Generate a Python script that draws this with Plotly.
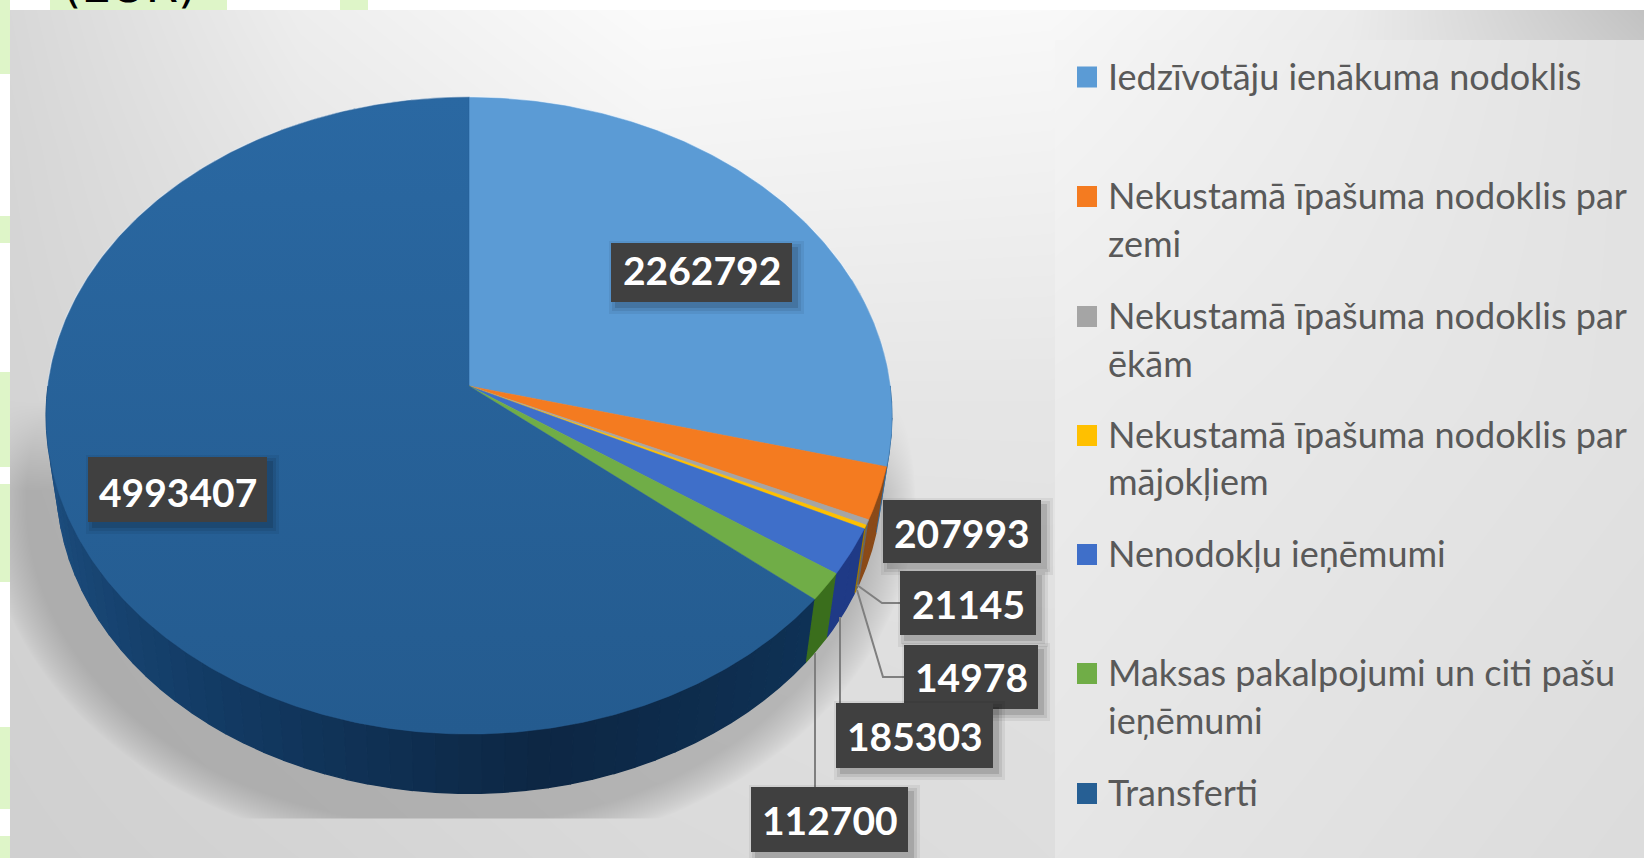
import base64, struct, zlib
import numpy as np
import plotly.graph_objects as go

# ---------- data ----------
categories = ["Iedzīvotāju ienākuma nodoklis", "Nekustamā īpašuma nodoklis par zemi",
              "Nekustamā īpašuma nodoklis par ēkām", "Nekustamā īpašuma nodoklis par mājokļiem",
              "Nenodokļu ieņēmumi", "Maksas pakalpojumi un citi pašu ieņēmumi", "Transferti"]
values = [2262792, 207993, 21145, 14978, 185303, 112700, 4993407]
colors = ["#5b9bd5", "#f47b20", "#a5a5a5", "#ffc000", "#3f6fc9", "#70ad47", "#265f94"]
wall_colors = ["#3a6d9c", "#8a4a18", "#666666", "#a07800", "#1f3a86", "#3a6e1c", "#123a60"]
legend_lines = [["Iedzīvotāju ienākuma nodoklis"], ["Nekustamā īpašuma nodoklis par", "zemi"],
                ["Nekustamā īpašuma nodoklis par", "ēkām"], ["Nekustamā īpašuma nodoklis par", "mājokļiem"],
                ["Nenodokļu ieņēmumi"], ["Maksas pakalpojumi un citi pašu", "ieņēmumi"], ["Transferti"]]

# ---------- layout constants (page pixels) ----------
W, H = 1644, 858
CX, CY, A, R, K = 469, 386, 421, 315.5, 0.0935
DROP, SHRINK = 68, 0.975
legend_y = [(76.5,), (196, 244), (316, 364), (435, 482), (554,), (673, 721), (793,)]
label_boxes = [(611, 243, 792, 302), (883, 500, 1041, 563), (900, 571, 1036, 635), (904, 645, 1038, 709),
               (836, 703, 993, 768), (751, 787, 908, 852), (88, 457, 267, 522)]
label_dy = [-3, 1, 1, 0, 0, 0, 2]
leaders = [[(857, 585), (882, 603), (900, 603)], [(857, 590), (883, 677), (904, 677)],
           [(840, 617), (840, 703)], [(815, 653), (815, 787)]]


def top_point(theta):
    u, v = np.sin(theta), -np.cos(theta)
    w = 1 - K * v
    return CX + A * u / w, CY + R * v / w


def low_point(theta):
    x, y = top_point(theta)
    return CX + (x - CX) * SHRINK, CY + DROP + (y - CY) * SHRINK


# ---------- background picture ----------
def png_uri(rgb):
    h, w, _ = rgb.shape
    raw = b"".join(b"\x00" + rgb[i].tobytes() for i in range(h))
    def chunk(t, d):
        return struct.pack(">I", len(d)) + t + d + struct.pack(">I", zlib.crc32(t + d) & 0xffffffff)
    data = b"\x89PNG\r\n\x1a\n" + chunk(b"IHDR", struct.pack(">IIBBBBB", w, h, 8, 2, 0, 0, 0)) \
        + chunk(b"IDAT", zlib.compress(raw, 6)) + chunk(b"IEND", b"")
    return "data:image/png;base64," + base64.b64encode(data).decode()


def bilinear(xs, ys, vals, xx, yy):
    vals = np.array(vals, float)
    gx = np.interp(xx[0], xs, np.arange(len(xs)))
    gy = np.interp(yy[:, 0], ys, np.arange(len(ys)))
    ix = np.clip(gx.astype(int), 0, len(xs) - 2); fx = gx - ix
    iy = np.clip(gy.astype(int), 0, len(ys) - 2); fy = gy - iy
    return (vals[iy][:, ix] * (1 - fx) + vals[iy][:, ix + 1] * fx) * (1 - fy)[:, None] \
        + (vals[iy + 1][:, ix] * (1 - fx) + vals[iy + 1][:, ix + 1] * fx) * fy[:, None]


yy, xx = np.mgrid[0:H, 0:W].astype(float)
panel = bilinear([10, 300, 650, 1050, 1350, 1644], [10, 150, 400, 650, 858],
                 [[216, 238, 251, 249, 236, 194],
                  [214, 232, 244, 242, 232, 214],
                  [212, 222, 230, 230, 226, 218],
                  [210, 216, 222, 224, 222, 216],
                  [208, 212, 218, 222, 220, 214]], xx, yy)
legend_panel = bilinear([1055, 1300, 1644], [40, 400, 858],
                        [[246, 238, 226],
                         [236, 232, 226],
                         [230, 226, 220]], xx, yy)
box = (xx >= 1055) & (yy >= 40)
panel[box] = legend_panel[box]
rho = np.hypot((xx - 450) / 424, (yy - 500) / 325)
dist = (rho - 1) * 350
shadow = 0.18 * np.clip((34 - dist) / 34, 0, 1) ** 0.8
shadow *= np.clip((yy - 400) / 90, 0, 1) * np.clip((819 - yy) / 2, 0, 1)
panel = panel * (1 - shadow)
img = np.stack([panel] * 3, axis=2)
page = np.full((H, W, 3), 255.0)
green = np.array([222, 245, 200.0])
for y0, y1 in [(0, 74), (216, 243), (372, 467), (484, 582), (727, 809), (836, 858)]:
    page[y0:y1, :10] = green
for x0, x1 in [(50, 227), (340, 368)]:
    page[:10, x0:x1] = green
mask = (xx >= 10) & (yy >= 10)
img[~mask] = page[~mask]
bg = png_uri(np.clip(img, 0, 255).astype(np.uint8))

fig = go.Figure()

# ---------- pie, drawn from the values ----------
fractions = np.array(values, float) / sum(values)
edges = np.concatenate([[0], np.cumsum(fractions)]) * 2 * np.pi


def shade(stops, t):
    rgb = [np.interp(t, [s[0] for s in stops], [int(s[1][i:i + 2], 16) for s in stops]) for i in (1, 3, 5)]
    return "rgb(%d,%d,%d)" % tuple(rgb)


trans_wall = [(np.pi * 0.72, "#0f3256"), (np.pi * 0.95, "#0d2744"), (np.pi * 1.2, "#133c66"), (np.pi * 1.5, "#205386")]

# outer walls
for i in range(len(values)):
    a0, a1 = edges[i], edges[i + 1]
    n = max(1, int((a1 - a0) / 0.05))
    steps = np.linspace(a0, a1, n + 1)
    for s0, s1 in zip(steps[:-1], steps[1:]):
        if s1 < np.pi * 0.4:
            continue
        th = np.linspace(s0, s1, 4)
        tx, ty = top_point(th)
        lx, ly = low_point(th)
        col = shade(trans_wall, (s0 + s1) / 2) if i == 6 else wall_colors[i]
        fig.add_trace(go.Scatter(x=np.r_[tx, lx[::-1]], y=np.r_[ty, ly[::-1]], mode="lines", fill="toself",
                                 fillcolor=col, line=dict(color=col, width=1.4), hoverinfo="skip", showlegend=False))

# pale rim round the back of the top face
th = np.linspace(-np.pi / 2, np.pi / 2, 240)
rx, ry = top_point(th)
fig.add_trace(go.Scatter(x=rx, y=ry, mode="lines", line=dict(color="rgba(232,242,252,0.7)", width=2.5),
                         hoverinfo="skip", showlegend=False))

# top faces
for i, name in enumerate(categories):
    th = np.linspace(edges[i], edges[i + 1], max(3, int((edges[i + 1] - edges[i]) / 0.01)))
    px, py = top_point(th)
    kw = dict(fillcolor=colors[i])
    if i == 6:
        kw = dict(fillgradient=dict(type="vertical", colorscale=[[0, "#245b8f"], [1, "#2a68a2"]]))
    fig.add_trace(go.Scatter(x=np.r_[CX, px, CX], y=np.r_[CY, py, CY], mode="lines", fill="toself",
                             line=dict(color=colors[i], width=0.5), name=name,
                             hoverinfo="name", showlegend=False, **kw))

# ---------- leader lines ----------
shapes = []
for pts in leaders:
    path = "M " + " L ".join(f"{x} {y}" for x, y in pts)
    shapes.append(dict(type="path", path=path, xref="x", yref="y", line=dict(color="#7f7f7f", width=2), layer="above"))

# ---------- label boxes and shadows ----------
annotations = []
for val, (x0, y0, x1, y1), dy in zip(values, label_boxes, label_dy):
    for grow, alpha in [(7, 0.06), (4, 0.08), (1, 0.12)]:
        shapes.append(dict(type="rect", xref="x", yref="y", x0=x0 + 5 - grow, x1=x1 + 5 + grow, y0=y0 + 5 - grow,
                           y1=y1 + 5 + grow, fillcolor=f"rgba(0,0,0,{alpha})", line_width=0, layer="above"))
    shapes.append(dict(type="rect", xref="x", yref="y", x0=x0, x1=x1, y0=y0, y1=y1, fillcolor="#404040",
                       line_width=0, layer="above"))
    annotations.append(dict(x=(x0 + x1) / 2, y=(y0 + y1) / 2 + dy, xref="x", yref="y", text=f"<b>{val}</b>",
                            showarrow=False, font=dict(family="Lato", size=39, color="#ffffff"),
                            xanchor="center", yanchor="middle"))

# ---------- legend ----------
for color, lines, ys in zip(colors, legend_lines, legend_y):
    shapes.append(dict(type="rect", xref="x", yref="y", x0=1077, x1=1097, y0=ys[0] - 10, y1=ys[0] + 11,
                       fillcolor=color, line_width=0, layer="above"))
    for line, y in zip(lines, ys):
        annotations.append(dict(x=1106, y=y - 1, xref="x", yref="y", text=line, showarrow=False, xanchor="left",
                                yanchor="middle", font=dict(family="Lato", size=36, color="#595959")))

# heading cut off by the top of the chart panel
annotations.append(dict(x=129, y=3, xref="x", yref="y", text="(EUR)", showarrow=False, xanchor="center",
                        yanchor="bottom", yshift=-12, font=dict(family="DejaVu Sans", size=47, color="#000000")))

fig.update_layout(
    width=W, height=H, margin=dict(l=0, r=0, t=0, b=0), showlegend=False,
    paper_bgcolor="#ffffff", plot_bgcolor="rgba(0,0,0,0)",
    xaxis=dict(range=[0, W], visible=False, fixedrange=True),
    yaxis=dict(range=[H, 0], visible=False, fixedrange=True),
    images=[dict(source=bg, xref="x", yref="y", x=0, y=0, sizex=W, sizey=H, sizing="stretch",
                 xanchor="left", yanchor="top", layer="below")],
    shapes=shapes, annotations=annotations,
)
fig.write_html("out.html", config=dict(displayModeBar=False),
               post_script="document.body.style.margin='0';document.documentElement.style.overflow='hidden';")
